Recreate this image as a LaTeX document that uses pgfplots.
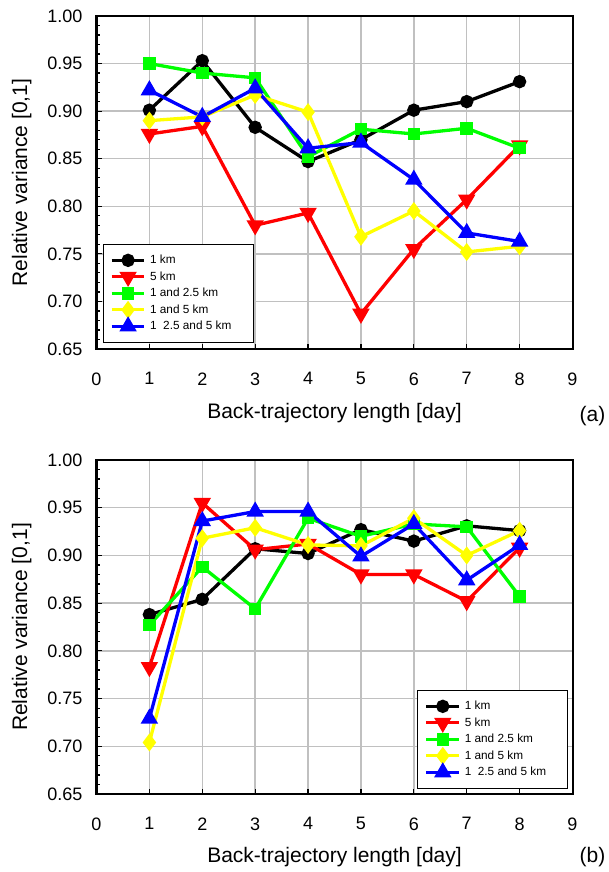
\documentclass[border=0pt]{standalone}
\usepackage{fontspec}
\setmainfont{Liberation Sans}
\usepackage{pgfplots}
\usepackage{pgfplotstable}
\pgfplotsset{compat=1.18}
\definecolor{pred}{RGB}{255,0,0}
\definecolor{pgreen}{RGB}{0,255,0}
\definecolor{pyellow}{RGB}{255,255,0}
\definecolor{pblue}{RGB}{0,0,255}
\definecolor{gridgray}{RGB}{192,192,192}

% panel (a)
\pgfplotstableread{
x  one   five  onetwo onefive all
1  0.901 0.876 0.950  0.890   0.922
2  0.953 0.884 0.940  0.894   0.894
3  0.883 0.780 0.935  0.917   0.924
4  0.847 0.793 0.852  0.899   0.861
5  0.870 0.687 0.881  0.768   0.867
6  0.901 0.755 0.876  0.795   0.828
7  0.910 0.807 0.882  0.752   0.772
8  0.931 0.864 0.861  0.758   0.763
}\dataA
% panel (b)
\pgfplotstableread{
x  one   five  onetwo onefive all
1  0.838 0.783 0.827  0.704   0.729
2  0.854 0.955 0.888  0.918   0.936
3  0.907 0.906 0.844  0.929   0.946
4  0.902 0.912 0.939  0.911   0.946
5  0.927 0.880 0.920  0.910   0.899
6  0.915 0.880 0.933  0.939   0.933
7  0.931 0.852 0.930  0.900   0.874
8  0.926 0.908 0.857  0.926   0.911
}\dataB

\pgfplotsset{
  panel/.style={
    scale only axis, width=476bp,
    xmin=0, xmax=9, ymin=0.65, ymax=1.0,
    xtick={0,1,2,3,4,5,6,7,8,9},
    ytick={0.65,0.70,0.75,0.80,0.85,0.90,0.95,1.00},
    minor y tick num=4,
    /pgf/number format/assume math mode=true,
    yticklabel style={/pgf/number format/fixed, /pgf/number format/fixed zerofill,
      /pgf/number format/precision=2, font=\fontsize{18bp}{21bp}\selectfont, xshift=-10.5bp},
    xticklabel style={font=\fontsize{18bp}{21bp}\selectfont, yshift=-20bp},
    grid=major, major grid style={color=gridgray, line width=1.5bp},
    axis line style={line width=2bp, black},
    tick align=inside, xtick pos=bottom, ytick pos=left,
    major tick length=5bp, minor tick length=3bp,
    every tick/.style={black, line width=1.2bp},
    xlabel={Back-trajectory length [day]},
    ylabel={Relative variance [0,1]},
    label style={font=\fontsize{21bp}{24bp}\selectfont},
    ylabel style={at={(axis description cs:-0.157,0.5)}, anchor=center},
    legend cell align=left,
    legend style={font=\fontsize{11.8bp}{14bp}\selectfont, draw=black, line width=0.8bp,
      inner xsep=7bp, inner ysep=8bp,
      nodes={inner sep=2.5bp, text height=9bp, text depth=2.5bp}, column sep=1.5bp},
    legend image code/.code={\draw[mark repeat=2,mark phase=2] plot coordinates {(0bp,0bp) (16.35bp,0bp) (32.7bp,0bp)};},
    every axis plot/.append style={line width=3.3bp},
  },
  s1/.style={color=black, mark=*, mark size=5bp, mark options={solid}},
  s2/.style={color=pred, mark=triangle*, mark size=6.8bp, mark options={solid, rotate=180}},
  s3/.style={color=pgreen, mark=square*, mark size=4.6bp, mark options={solid}},
  s4/.style={color=pyellow, mark=diamond*, mark size=6.3bp, mark options={solid}},
  s5/.style={color=pblue, mark=triangle*, mark size=6.8bp, mark options={solid}},
}

\begin{document}
\begin{tikzpicture}
\path[use as bounding box] (0bp,0bp) rectangle (609bp,872bp);
\begin{axis}[panel, name=top, at={(96.5bp,523bp)}, anchor=south west, height=333bp,
  xlabel style={at={(axis description cs:0.5,-0.192)}, anchor=center},
  legend style={at={(axis description cs:0.013,0.018)}, anchor=south west}]
\addplot[s1] table[x=x,y=one] {\dataA};
\addlegendentry{1 km}
\addplot[s2] table[x=x,y=five] {\dataA};
\addlegendentry{5 km}
\addplot[s3] table[x=x,y=onetwo] {\dataA};
\addlegendentry{1 and 2.5 km}
\addplot[s4] table[x=x,y=onefive] {\dataA};
\addlegendentry{1 and 5 km}
\addplot[s5] table[x=x,y=all] {\dataA};
\addlegendentry{1\ \ 2.5 and 5 km\hspace*{12bp}}
\end{axis}
\node[font=\fontsize{21bp}{24bp}\selectfont, anchor=center] at ([xshift=20bp,yshift=-67bp]top.south east) {(a)};

\begin{axis}[panel, name=bot, at={(96.5bp,78bp)}, anchor=south west, height=334bp,
  xlabel style={at={(axis description cs:0.5,-0.190)}, anchor=center},
  legend style={at={(axis description cs:0.9906,0.015)}, anchor=south east}]
\addplot[s1] table[x=x,y=one] {\dataB};
\addlegendentry{1 km}
\addplot[s2] table[x=x,y=five] {\dataB};
\addlegendentry{5 km}
\addplot[s3] table[x=x,y=onetwo] {\dataB};
\addlegendentry{1 and 2.5 km}
\addplot[s4] table[x=x,y=onefive] {\dataB};
\addlegendentry{1 and 5 km}
\addplot[s5] table[x=x,y=all] {\dataB};
\addlegendentry{1\ \ 2.5 and 5 km\hspace*{12bp}}
\end{axis}
\node[font=\fontsize{21bp}{24bp}\selectfont, anchor=center] at ([xshift=20bp,yshift=-63bp]bot.south east) {(b)};
\end{tikzpicture}
\end{document}
